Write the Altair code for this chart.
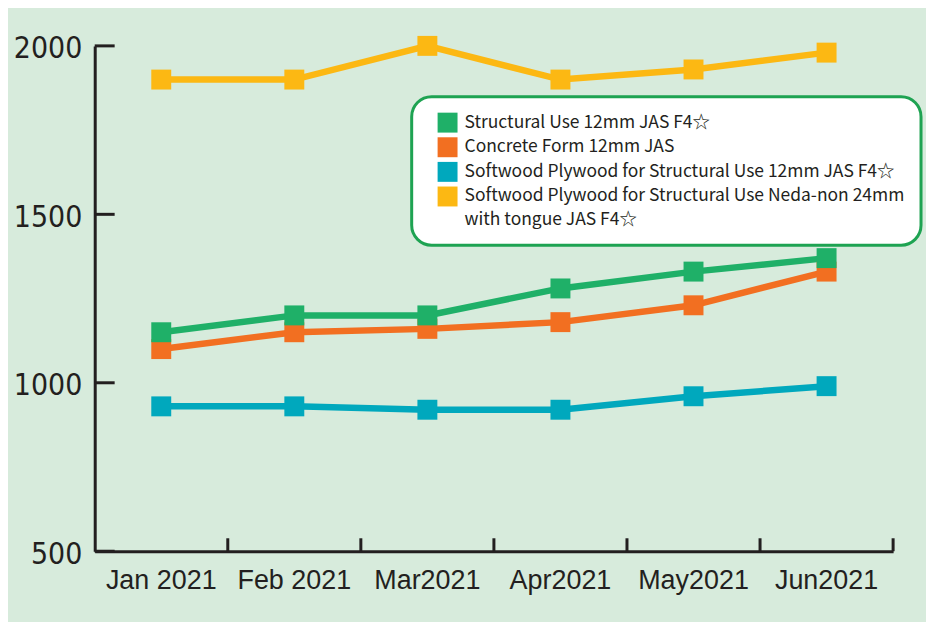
import altair as alt
import pandas as pd

months = ["Jan 2021", "Feb 2021", "Mar2021", "Apr2021", "May2021", "Jun2021"]
series = [
    "Structural Use 12mm JAS F4☆",
    "Concrete Form 12mm JAS",
    "Softwood Plywood for Structural Use 12mm JAS F4☆",
    "Softwood Plywood for Structural Use Neda-non 24mm|with tongue JAS F4☆",
]
colors = ["#1fb068", "#f26f21", "#00a8bd", "#fcb813"]
structural = [1150, 1200, 1200, 1280, 1330, 1370]
concrete = [1100, 1150, 1160, 1180, 1230, 1330]
softwood12 = [930, 930, 920, 920, 960, 990]
softwood24 = [1900, 1900, 2000, 1900, 1930, 1980]
draw_order = [4, 1, 2, 3]
y_ticks = [500, 1000, 1500, 2000]

rows = []
for s, vals, z in zip(series, [structural, concrete, softwood12, softwood24], draw_order):
    for m, v in zip(months, vals):
        rows.append({"month": m, "series": s, "line": s, "value": v, "z": z})
df = pd.DataFrame(rows)

W, H = 801, 507
INK = "#231f20"

xscale = alt.Scale(type="band", domain=months, paddingInner=0, paddingOuter=0)
yscale = alt.Scale(domain=[500, 2000], nice=False, zero=False)

xaxis = alt.Axis(title=None, labelAngle=0, labelFont="Liberation Sans", labelFontSize=27,
                 labelColor=INK, labelPadding=16, ticks=False, tickSize=0,
                 domainColor=INK, domainWidth=3, grid=False)
yaxis = alt.Axis(title=None, values=y_ticks, format="d",
                 labelFont="DejaVu Sans Condensed, Liberation Sans", labelFontSize=30,
                 labelColor=INK, labelPadding=13, ticks=False, tickSize=0, labelOffset=3,
                 domainColor=INK, domainWidth=3, grid=False)

# the line layer's stroke scale lists the series in reverse order (same colour mapping)
# so that its hidden legend is not merged with the visible fill legend
lines = alt.Chart(df).mark_line(strokeWidth=6.5).encode(
    x=alt.X("month:N", scale=xscale, axis=xaxis, bandPosition=0.5),
    y=alt.Y("value:Q", scale=yscale, axis=yaxis),
    stroke=alt.Stroke("line:N", scale=alt.Scale(domain=series[::-1], range=colors[::-1]), legend=None),
)

squares = alt.Chart(df).mark_square(size=400, opacity=1, filled=True).encode(
    x=alt.X("month:N", scale=xscale, axis=xaxis, bandPosition=0.5),
    y=alt.Y("value:Q", scale=yscale, axis=yaxis),
    fill=alt.Fill("series:N", scale=alt.Scale(domain=series, range=colors), legend=alt.Legend(
        title=None, orient="none", legendX=318, legendY=51,
        symbolType="square", symbolSize=400, symbolStrokeWidth=0, symbolOpacity=1,
        fillColor="white", strokeColor="#1ea352", cornerRadius=20, padding=16,
        labelFont="Noto Sans CJK JP", labelFontSize=17.5, labelColor=INK, labelLimit=0,
        rowPadding=4.7, labelOffset=7, symbolOffset=10,
        labelExpr="split(datum.label, '|')",
    )),
    order=alt.Order("z:Q"),
)

xt = pd.DataFrame({"month": months})
xticks = alt.Chart(xt).mark_rule(color=INK, strokeWidth=3).encode(
    x=alt.X("month:N", scale=xscale, axis=xaxis, bandPosition=1),
    y=alt.value(H - 13),
    y2=alt.value(H),
)

yt = pd.DataFrame({"value": y_ticks})
yticks = alt.Chart(yt).mark_rule(color=INK, strokeWidth=3).encode(
    y=alt.Y("value:Q", scale=yscale, axis=yaxis),
    x=alt.value(0),
    x2=alt.value(20),
)

chart = alt.layer(xticks, yticks, lines, squares).properties(
    width=W, height=H,
    autosize=alt.AutoSizeParams(type="none"),
    padding={"left": 87, "top": 37, "right": 33, "bottom": 70},
    background="#d7ebdc",
).configure_view(stroke=None).configure_legend(strokeWidth=3)

# give the wrapped legend label the reference's 24px line spacing
patch = [{"op": "add", "path": "/legends/0/encode/labels/update/lineHeight", "value": {"value": 24}}]

chart.save("out.html", embed_options={"renderer": "svg", "actions": False, "patch": patch})
